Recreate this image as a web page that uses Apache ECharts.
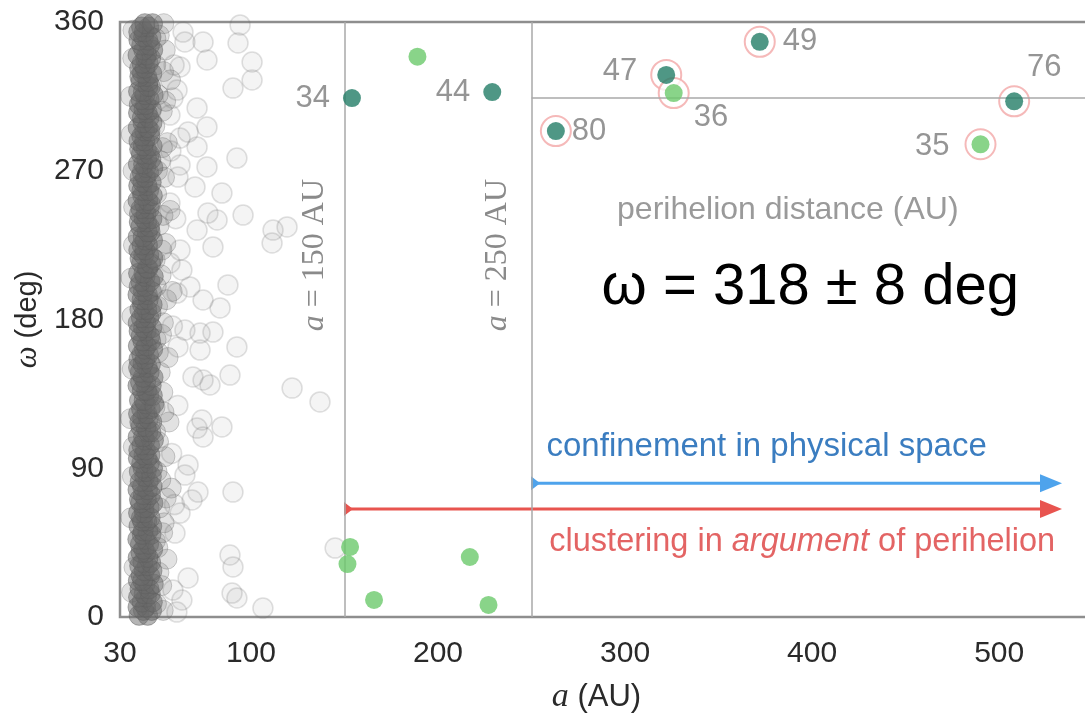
<!DOCTYPE html>
<html>
<head>
<meta charset="utf-8">
<script src="https://cdn.jsdelivr.net/npm/echarts@6/dist/echarts.min.js"></script>
<style>
  html, body { margin: 0; padding: 0; background: #ffffff; }
  #chart { width: 1085px; height: 718px; }
</style>
</head>
<body>
<div id="chart"></div>
<script>
// Axis ticks
const xTicks = [30, 100, 200, 300, 400, 500];
const yTicks = [0, 90, 180, 270, 360];

// Classical Kuiper belt objects (dense core): [a (AU), omega (deg)]
const kuiperBelt = [
  [40.2,1],[44.8,1],[42.5,4],[46.9,4],[39.6,6],[43.7,6],[41.8,9],[47.3,9],[44.1,12],[39.9,12],
  [42.9,14],[46.2,14],[40.7,17],[45.5,17],[43.4,20],[47.8,20],[39.8,22],[42.1,22],[45.9,25],[41.3,25],
  [43.0,28],[47.1,28],[40.5,31],[44.6,31],[42.2,33],[46.4,33],[39.7,36],[45.0,36],[43.8,39],[41.2,39],
  [47.5,41],[42.7,41],[40.9,44],[45.3,44],[43.5,47],[39.5,47],[46.6,50],[41.9,50],[42.4,52],[44.9,52],
  [40.1,55],[47.0,55],[44.3,58],[42.0,58],[41.4,60],[46.1,60],[39.9,63],[43.1,63],[45.6,66],[42.8,66],
  [41.0,69],[47.6,69],[43.9,71],[40.4,71],[46.3,74],[42.5,74],[39.6,77],[44.7,77],[42.0,79],[47.2,79],
  [45.1,82],[40.8,82],[43.2,85],[46.8,85],[40.3,88],[44.0,88],[47.4,90],[42.3,90],[41.6,93],[45.7,93],
  [44.5,96],[39.8,96],[42.8,98],[46.0,98],[40.0,101],[43.6,101],[45.8,104],[41.7,104],[43.3,107],[47.9,107],
  [39.7,109],[42.6,109],[44.9,112],[46.5,112],[41.2,115],[43.9,115],[47.0,118],[40.6,118],[42.1,120],[45.2,120],
  [39.9,123],[44.4,123],[46.2,126],[41.5,126],[43.6,129],[48.1,129],[40.4,131],[42.9,131],[45.4,134],[47.3,134],
  [41.9,137],[44.2,137],[39.6,140],[46.7,140],[43.7,142],[41.0,142],[47.7,145],[42.4,145],[40.8,148],[45.6,148],
  [44.6,151],[39.9,151],[42.3,153],[46.3,153],[40.1,156],[43.4,156],[45.2,159],[41.6,159],[43.1,162],[47.5,162],
  [39.8,164],[44.1,164],[46.4,167],[42.2,167],[41.3,170],[45.9,170],[44.0,173],[40.2,173],[42.6,175],[47.0,175],
  [39.7,178],[43.8,178],[45.5,181],[41.4,181],[43.0,184],[46.6,184],[40.6,186],[44.3,186],[47.2,189],[42.0,189],
  [41.8,192],[45.1,192],[44.7,195],[39.6,195],[42.5,197],[46.9,197],[40.2,200],[43.5,200],[46.0,203],[41.1,203],
  [43.4,206],[47.8,206],[39.9,208],[42.8,208],[45.0,211],[44.5,211],[41.5,214],[46.4,214],[47.6,217],[40.7,217],
  [42.7,219],[45.4,219],[40.0,222],[43.3,222],[44.8,225],[41.8,225],[43.5,228],[47.4,228],[39.7,230],[42.4,230],
  [46.1,233],[44.6,233],[41.1,236],[45.8,236],[44.2,239],[40.3,239],[42.9,241],[47.1,241],[40.4,244],[43.9,244],
  [45.7,247],[41.2,247],[43.1,250],[46.2,250],[39.6,252],[44.8,252],[47.3,255],[42.1,255],[41.7,258],[45.3,258],
  [44.4,261],[40.0,261],[42.2,263],[46.7,263],[40.7,266],[43.6,266],[45.3,269],[41.9,269],[43.8,272],[47.6,272],
  [39.8,274],[42.6,274],[46.5,277],[44.3,277],[41.4,280],[45.7,280],[44.1,283],[40.5,283],[42.4,285],[47.2,285],
  [40.1,288],[43.2,288],[45.9,291],[41.6,291],[43.2,294],[46.0,294],[39.7,296],[44.7,296],[47.1,299],[42.3,299],
  [41.9,302],[45.5,302],[44.6,305],[39.9,305],[42.8,307],[46.8,307],[40.3,310],[43.7,310],[45.6,313],[41.3,313],
  [43.4,316],[47.7,316],[39.9,318],[42.5,318],[46.3,321],[44.9,321],[41.2,324],[45.1,324],[44.3,327],[40.6,327],
  [42.0,329],[47.0,329],[40.5,332],[43.4,332],[45.1,335],[41.8,335],[43.7,338],[46.4,338],[39.6,340],[44.2,340],
  [47.5,343],[42.7,343],[41.6,346],[45.8,346],[44.9,349],[40.1,349],[42.6,351],[46.6,351],[40.0,354],[43.0,354],
  [45.4,357],[41.5,357],[43.3,359],[47.4,359]
];

// Objects at the fringes of the belt
const kuiperFringe = [
  [49.5,8],[52.3,19],[50.8,27],[55.1,35],[48.9,46],[53.6,57],[51.2,66],[57.4,78],[49.8,88],[54.0,97],
  [50.6,106],[56.2,118],[48.7,127],[52.9,136],[51.5,148],[55.7,157],[49.3,168],[53.2,178],[50.1,188],[57.9,197],
  [52.0,207],[48.8,216],[54.5,226],[50.9,237],[56.8,246],[49.6,256],[53.8,266],[51.7,276],[55.3,287],[48.6,297],
  [52.6,306],[50.4,316],[57.0,325],[49.1,334],[54.2,343],[51.0,352],[53.4,359],[50.2,42],[49.0,112],[50.5,160],
  [49.4,200],[50.0,270],[49.2,350],[51.8,83],[52.4,222],[53.1,4],[52.8,51],[54.7,72],[53.5,124],[52.2,171],
  [54.9,192],[53.0,243],[52.7,284],[54.4,312],[53.3,330],
  [36.2,15],[35.8,60],[37.1,103],[36.5,150],[35.9,205],[37.3,248],[36.0,292],[36.8,338],[37.5,30],[36.4,182],
  [37.0,270],[35.6,120],[36.6,85],[37.2,225],[35.7,315],[36.9,355]
];

// Scattered disk objects with larger semi-major axes
const scattered = [
  [63.7,353.9],[64.7,347.9],[74.4,347.9],[76.5,337],[62.1,332.8],[94.2,358.2],[93.1,347.3],[100.6,335.8],
  [100.6,324.9],[90.4,320],[60.5,318.8],[58.3,314],[71.2,308],[56.7,303.7],[76.5,296.5],[66.4,293.4],
  [62.1,289.8],[71.2,284.4],[92.5,277.7],[62.1,273.5],[76.5,272.3],[61,266.2],[70.1,260.2],[84.5,256.5],
  [56.7,250.5],[77,244.4],[95.8,243.2],[81.9,240.2],[71.2,234.1],[111.8,234.1],[119.3,236],[111.3,226.3],
  [79.7,223.9],[62.1,222],[56.7,214.2],[63.1,210],[87.7,200.9],[67.4,199.7],[60.5,196],[74.4,191.8],
  [83.5,187],[64.7,173.6],[72.8,171.8],[79.7,172.4],[92.5,163.4],[61,163.4],[72.8,161.5],[88.8,146.4],
  [78.1,140.4],[74.4,143.4],[69,145.2],[122,138.5],[136.9,130.1],[73.8,119.2],[84.5,115],[74.4,108.9],
  [71.2,114.3],[66.4,92],[64.7,85.9],[71.7,75.6],[68.5,70.8],[90.4,75.6],[62.1,62.9],[59.4,50.8],
  [88.8,37.5],[90.4,30.3],[145,41.7],[89.9,14.5],[92.5,11.5],[106.4,5.4],[66.4,23.6],[58.3,16.3],[63.1,10.3],
  [58.9,334],[57.2,282],[59.8,241],[58.0,176],[60.9,128],[57.6,99],[59.1,68],[60.4,3]
];

// Distant objects coloured by group, with perihelion-distance labels
const darkObjects = [[154, 314], [229, 317.6], [263, 294], [322, 328], [372, 348], [508, 312]];
const darkLabels = ['34', '44', '80', '47', '49', '76'];
const lightObjects = [[189, 339], [326, 317], [490, 286], [153, 42.4], [151.6, 32], [165.8, 10.3], [217, 36.3], [227, 7.3]];
const lightLabels = ['', '36', '35', '', '', '', '', ''];

// Reference values
const boundaries = [150, 250];
const meanOmega = 314;
const confinementOmega = 81;
const clusteringOmega = 65.3;
const arrowEnd = 527.7;
const xMax = 548;

const labelPlacement = {
  '34': { position: 'left', distance: 13 },
  '44': { position: 'left', distance: 13 },
  '80': { position: 'right', distance: 7 },
  '47': { position: 'left', distance: 20, offset: [0, -3] },
  '49': { position: 'right', distance: 14 },
  '76': { position: 'top', distance: 9, offset: [30, 0] },
  '36': { position: 'right', distance: 11, offset: [0, 24] },
  '35': { position: 'left', distance: 22, offset: [0, 2] }
};

const SANS = "'Liberation Sans', Arial, sans-serif";
const SERIF = "'Liberation Serif', 'DejaVu Serif', serif";

function labelled(points, names) {
  return points.map((p, i) => {
    const item = { value: p };
    const place = labelPlacement[names[i]];
    if (place) item.label = Object.assign({ show: true, formatter: names[i] }, place);
    return item;
  });
}

const ringed = darkObjects.concat(lightObjects).filter(p => p[0] > boundaries[1]);

const chart = echarts.init(document.getElementById('chart'), null, { renderer: 'canvas' });

const labelStyle = { show: false, color: '#7a7a7a', fontSize: 31, fontFamily: SANS };

chart.setOption({
  animation: false,
  backgroundColor: '#ffffff',
  grid: {
    left: 120, top: 22, right: -4, bottom: 101,
    outerBoundsMode: 'none', containLabel: false,
    show: true, borderColor: '#8e8e8e', borderWidth: 2.5, backgroundColor: 'transparent'
  },
  xAxis: {
    type: 'value', min: xTicks[0], max: xMax,
    axisLine: { show: false }, axisTick: { show: false }, splitLine: { show: false },
    axisLabel: { customValues: xTicks, color: '#2a2a2a', fontSize: 30, fontFamily: SANS, margin: 22 },
    name: '{i|a} (AU)', nameLocation: 'middle', nameGap: 63,
    nameTextStyle: {
      color: '#2a2a2a', fontSize: 31, fontFamily: SANS, padding: [0, 16, 0, 0],
      rich: { i: { fontFamily: SERIF, fontStyle: 'italic', fontSize: 34, color: '#2a2a2a' } }
    }
  },
  yAxis: {
    type: 'value', min: yTicks[0], max: yTicks[yTicks.length - 1], interval: 90,
    axisLine: { show: false }, axisTick: { show: false }, splitLine: { show: false },
    axisLabel: { color: '#2a2a2a', fontSize: 30, fontFamily: SANS, margin: 16 },
    name: '{i|ω} (deg)', nameLocation: 'middle', nameGap: 76, nameRotate: 90,
    nameTextStyle: {
      color: '#2a2a2a', fontSize: 29, fontFamily: SANS,
      rich: { i: { fontFamily: SERIF, fontStyle: 'italic', fontSize: 31, color: '#2a2a2a' } }
    }
  },
  series: [
    {
      type: 'scatter', data: kuiperBelt, symbolSize: 20, z: 2, silent: true,
      itemStyle: { color: 'rgba(106,106,106,0.62)', borderColor: 'rgba(95,95,95,0.6)', borderWidth: 1 }
    },
    {
      type: 'scatter', data: kuiperFringe, symbolSize: 20, z: 2, silent: true,
      itemStyle: { color: 'rgba(110,110,110,0.25)', borderColor: 'rgba(95,95,95,0.38)', borderWidth: 1 }
    },
    {
      type: 'scatter', data: scattered, symbolSize: 20, z: 2, silent: true,
      itemStyle: { color: 'rgba(120,120,120,0.10)', borderColor: 'rgba(105,105,105,0.26)', borderWidth: 1.5 },
      markLine: {
        silent: true, symbol: 'none', animation: false,
        label: { show: false },
        lineStyle: { color: '#a9a9a9', width: 1.5, type: 'solid' },
        data: [
          { xAxis: boundaries[0] },
          { xAxis: boundaries[1] },
          [{ coord: [boundaries[1], meanOmega] }, { coord: [xMax, meanOmega] }]
        ]
      }
    },
    {
      type: 'line', z: 3, silent: true, showSymbol: true, showAllSymbol: true,
      lineStyle: { color: '#4ea3ec', width: 3 }, itemStyle: { color: '#4ea3ec' },
      data: [
        { value: [boundaries[1], confinementOmega], symbol: 'triangle', symbolSize: [14, 9], symbolRotate: -90, symbolOffset: [4, 0] },
        { value: [arrowEnd, confinementOmega], symbol: 'triangle', symbolSize: [18, 22], symbolRotate: -90 }
      ]
    },
    {
      type: 'line', z: 3, silent: true, showSymbol: true, showAllSymbol: true,
      lineStyle: { color: '#e8544f', width: 3 }, itemStyle: { color: '#e8544f' },
      data: [
        { value: [boundaries[0], clusteringOmega], symbol: 'triangle', symbolSize: [14, 9], symbolRotate: -90, symbolOffset: [4, 0] },
        { value: [arrowEnd, clusteringOmega], symbol: 'triangle', symbolSize: [18, 22], symbolRotate: -90 }
      ]
    },
    {
      type: 'scatter', data: ringed, symbolSize: 30, z: 4, silent: true,
      itemStyle: { color: '#ffffff', borderColor: '#f2a7a7', borderWidth: 2 }
    },
    {
      type: 'scatter', data: labelled(darkObjects, darkLabels), symbolSize: 18, z: 5, silent: true,
      itemStyle: { color: '#237d66' }, label: labelStyle
    },
    {
      type: 'scatter', data: labelled(lightObjects, lightLabels), symbolSize: 18, z: 5, silent: true,
      itemStyle: { color: '#6cc96b' }, label: labelStyle
    }
  ]
});

// Annotations anchored in data coordinates
const annotations = [
  { at: [399, 199], text: 'ω = 318 ± 8 deg', fontSize: 58, fill: '#000000', align: 'center', font: SANS },
  { at: [387, 246], text: 'perihelion distance (AU)', fontSize: 32, fill: '#9a9a9a', align: 'center', font: SANS },
  { at: [258, 103], text: 'confinement in physical space', fontSize: 33, fill: '#3b7dc0', align: 'left', font: SANS },
  { at: [259.5, 45.4], text: 'clustering in {it|argument} of perihelion', fontSize: 32.5, fill: '#e36464', align: 'left', font: SANS },
  { at: [134.2, 219], text: '{it|a} = 150 AU', fontSize: 32, fill: '#8a8a8a', align: 'center', font: SERIF, rotation: Math.PI / 2 },
  { at: [232, 219], text: '{it|a} = 250 AU', fontSize: 32, fill: '#8a8a8a', align: 'center', font: SERIF, rotation: Math.PI / 2 }
];

chart.setOption({
  graphic: annotations.map(a => {
    const px = chart.convertToPixel({ gridIndex: 0 }, a.at);
    return {
      type: 'text', x: px[0], y: px[1], rotation: a.rotation || 0, silent: true, z: 10,
      style: {
        text: a.text, fill: a.fill, fontSize: a.fontSize, fontFamily: a.font,
        align: a.align, verticalAlign: 'middle',
        rich: { it: { fontStyle: 'italic', fill: a.fill, fontSize: a.fontSize, fontFamily: a.font } }
      }
    };
  })
});
</script>
</body>
</html>
